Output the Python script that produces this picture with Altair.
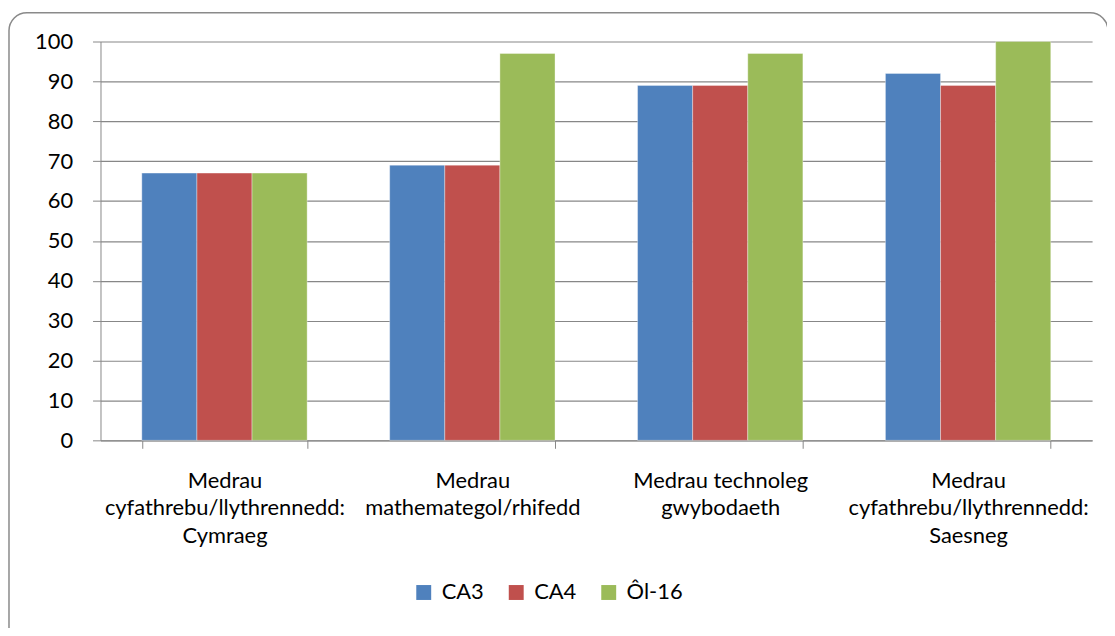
import altair as alt
import pandas as pd

categories = [
    "Medrau|cyfathrebu/llythrennedd:|Cymraeg",
    "Medrau|mathemategol/rhifedd",
    "Medrau technoleg|gwybodaeth",
    "Medrau|cyfathrebu/llythrennedd:|Saesneg",
]
series = ["CA3", "CA4", "Ôl-16"]
ca3 = [67, 69, 89, 92]
ca4 = [67, 69, 89, 89]
ol16 = [67, 97, 97, 100]
colors = ["#4F81BD", "#C0504D", "#9BBB59"]
y_ticks = list(range(0, 101, 10))

rows = []
for s, vals in zip(series, [ca3, ca4, ol16]):
    for c, v in zip(categories, vals):
        rows.append({"cat": c, "series": s, "value": v})
df = pd.DataFrame(rows)

FONT = "Lato"
FS = 22
GRAY = "#878787"

bars = alt.Chart(df).mark_bar(stroke="#ffffff", strokeWidth=0.6, strokeOpacity=0.6).encode(
    x=alt.X(
        "cat:N",
        sort=categories,
        scale=alt.Scale(paddingInner=0.333, paddingOuter=0.1667),
        axis=alt.Axis(
            title=None,
            labelExpr="split(datum.label, '|')",
            labelAngle=0,
            tickBand="extent",
            tickSize=8,
            tickColor=GRAY,
            domainColor=GRAY,
            labelFont=FONT,
            labelFontSize=FS,
            labelColor="#000000",
            labelLimit=400,
            labelOverlap=False,
            labelPadding=22,
            labelLineHeight=28,
            labelBaseline="top",
        ),
    ),
    xOffset=alt.XOffset("series:N", sort=series, scale=alt.Scale(paddingInner=0, paddingOuter=0)),
    y=alt.Y(
        "value:Q",
        scale=alt.Scale(domain=[0, 100], nice=False),
        axis=alt.Axis(
            title=None,
            values=y_ticks,
            tickSize=8,
            tickColor=GRAY,
            domainColor=GRAY,
            gridColor=GRAY,
            gridWidth=1.2,
            labelFont=FONT,
            labelFontSize=FS,
            labelColor="#000000",
            labelPadding=20,
        ),
    ),
    color=alt.Color(
        "series:N",
        sort=series,
        scale=alt.Scale(domain=series, range=colors),
        legend=alt.Legend(
            title=None,
            orient="none",
            direction="horizontal",
            legendX=314,
            legendY=543,
            symbolType="square",
            symbolSize=225,
            symbolStrokeWidth=0,
            labelFont=FONT,
            labelFontSize=FS,
            labelColor="#000000",
            labelOffset=7,
            columnPadding=21,
            gridAlign="none",
            padding=0,
        ),
    ),
)

frame = alt.Chart(alt.Data(values=[{}])).mark_rect(
    fill=None, stroke="#8a8a8a", strokeWidth=1.5, cornerRadius=18
).encode(
    x=alt.value(-92), x2=alt.value(1013), y=alt.value(-29), y2=alt.value(610)
)

chart = alt.layer(frame, bars).properties(
    width=997,
    height=401,
    autosize=alt.AutoSizeParams(type="none"),
    padding={"left": 93, "top": 32, "right": 15, "bottom": 187},
    background="#ffffff",
).configure_view(stroke=None)

chart.save("out.html", embed_options={"renderer": "svg", "actions": False})
